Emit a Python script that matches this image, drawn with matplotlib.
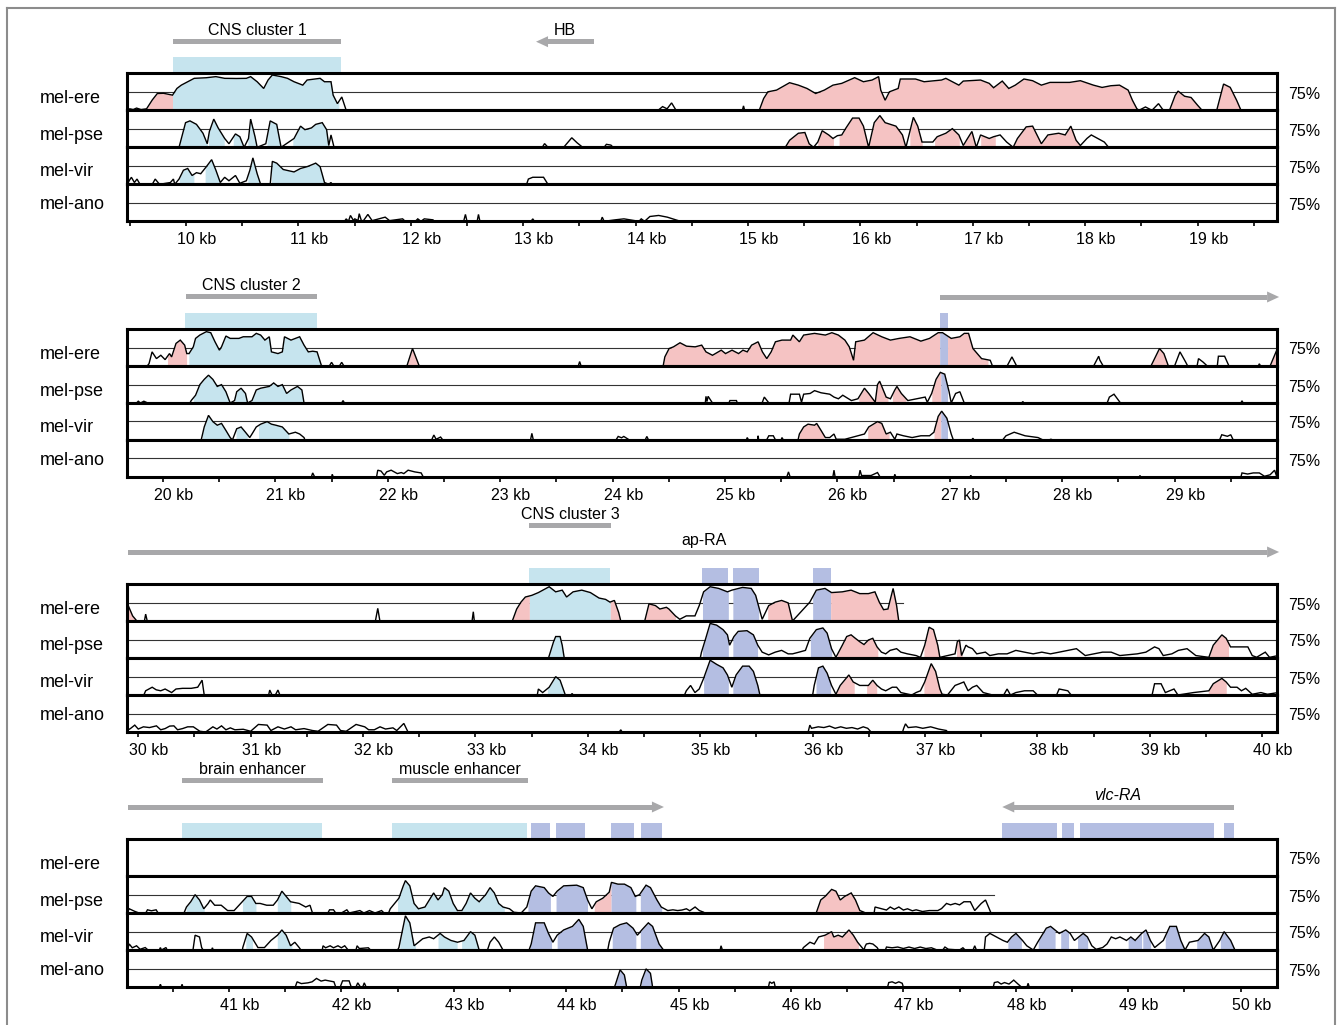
import numpy as np
import matplotlib
matplotlib.use('Agg')
import matplotlib.pyplot as plt
from matplotlib.patches import Rectangle, Polygon
from matplotlib.lines import Line2D

plt.rcParams['font.family'] = ['Liberation Sans', 'DejaVu Sans']

W, H = 1337, 1025
PX_PER_KB = 112.4
FRAME_L, FRAME_R = 127, 1277
TRACK_H = 37.0

species = ['mel-ere', 'mel-pse', 'mel-vir', 'mel-ano']
panel_start_kb = [9.475, 19.68, 29.9, 40.093]
panel_tick_kb = [list(range(10, 20)), list(range(20, 30)), list(range(30, 41)), list(range(41, 51))]

fill_colors = {'c': '#c6e4ee', 'e': '#b4bee2', 'n': '#f5c3c3'}
GRAY = '#a8a8aa'

# ---- conservation curves: (position kb, % identity) ----
p1_ere = [(9.48,50),(9.50,52),(9.53,51),(9.56,53),(9.60,51),(9.649,52),(9.70,64),(9.745,72.7),(9.80,73),(9.88,70.5),
          (9.919,79.5),(9.958,84),(10.073,93.2),(10.18,94),(10.266,95.5),(10.344,93.2),(10.45,93),(10.537,93.2),(10.575,95.5),
          (10.633,88.6),(10.691,79.5),(10.73,90.9),(10.768,97.7),(10.846,95.5),(10.903,93.2),(10.961,88.6),(11.039,84),
          (11.077,90.9),(11.193,93.2),(11.232,88.6),(11.29,88.6),(11.309,70.5),(11.347,59),(11.386,68),(11.425,50),
          (14.2,50),(14.24,55),(14.28,52),(14.32,60),(14.36,50),(14.95,50),(14.96,56),(14.97,50),(15.10,50),
          (15.139,65.9),(15.177,75),(15.254,77.3),(15.37,87.3),(15.448,84),(15.525,79.5),(15.602,72.7),(15.679,77.3),
          (15.756,84),(15.834,86.4),(15.949,94.1),(16.027,88.6),(16.104,90.9),(16.162,95.5),(16.181,77.3),(16.22,63.6),
          (16.258,75),(16.336,79.5),(16.355,92.3),(16.49,92.3),(16.567,88.6),(16.722,90.9),(16.76,93.2),(16.876,84),
          (16.915,89.5),(17.069,90.9),(17.146,86.4),(17.185,80.5),(17.262,89.5),(17.32,79.5),(17.378,84),(17.455,92.3),
          (17.532,90),(17.61,84),(17.687,87.7),(17.861,87.7),(17.957,90),(18.073,84),(18.15,80.9),(18.228,83.2),
          (18.305,84),(18.382,77.3),(18.42,63.6),(18.459,52.3),(18.478,50),(18.536,54.5),(18.594,50),(18.652,59),
          (18.69,51),(18.75,50),(18.80,70),(18.826,76),(18.884,69),(18.942,67.3),(19.0,56.8),(19.04,50),(19.17,50),
          (19.231,85.5),(19.29,81),(19.347,63.6),(19.386,50)]
p1_ere_fill = [(9.649,9.88,'n'),(9.88,11.36,'c'),(15.10,18.46,'n'),(18.75,19.04,'n'),(19.17,19.39,'n')]

p1_pse = [(9.938,50),(9.996,83.3),(10.035,85.7),(10.093,81),(10.151,69),(10.189,54.8),(10.208,71.4),(10.247,88.1),
          (10.286,76.2),(10.344,61.9),(10.382,54.8),(10.44,68.1),(10.479,64.3),(10.517,50),(10.556,61.9),(10.575,88.1),
          (10.614,64.3),(10.633,50),(10.71,54.8),(10.749,85.7),(10.807,81),(10.846,50),(10.961,61.9),(11.019,78.6),
          (11.058,73.8),(11.116,76.2),(11.154,81),(11.212,83.3),(11.251,73.8),(11.27,52.4),(11.29,66.7),(11.317,50),
          (13.17,50),(13.19,55),(13.22,50),(13.36,50),(13.432,62.9),(13.48,56),(13.529,50),(13.72,50),(13.74,54),
          (13.78,53),(13.80,50),(15.332,50),(15.37,59.5),(15.448,69),(15.506,70),(15.544,54.8),(15.583,50),(15.621,57.1),
          (15.66,72.4),(15.718,66.7),(15.756,61.9),(15.795,65.7),(15.834,66.7),(15.872,76.2),(15.93,89.5),(15.988,89.5),
          (16.027,78.6),(16.073,50),(16.123,83.3),(16.173,92.9),(16.22,83.3),(16.316,78.6),(16.374,66.7),(16.405,50),
          (16.444,73.8),(16.471,90.5),(16.51,78.6),(16.548,57.1),(16.644,57.1),(16.683,64.3),(16.76,69),(16.818,75.2),
          (16.876,66.7),(16.915,52.4),(16.953,61.9),(16.992,71.4),(17.031,50),(17.069,66.7),(17.146,61.9),(17.185,64.3),
          (17.243,66.7),(17.301,57.1),(17.359,50),(17.397,61.9),(17.475,77.6),(17.532,78.6),(17.571,66.7),(17.61,54.8),
          (17.668,66.7),(17.764,69),(17.822,66.7),(17.872,78.6),(17.919,59.5),(17.957,52.4),(18.015,61.9),(18.054,66.7),
          (18.112,61.9),(18.17,57.1),(18.208,50)]
p1_pse_fill = [(9.94,10.19,'c'),(10.20,10.34,'c'),(10.42,10.52,'c'),(10.55,10.63,'c'),(10.72,10.85,'c'),(10.95,11.27,'c'),
               (15.332,15.56,'n'),(15.62,15.76,'n'),(15.81,16.41,'n'),(16.44,16.55,'n'),(16.66,16.88,'n'),
               (16.92,17.03,'n'),(17.07,17.2,'n'),(17.36,17.95,'n')]

p1_vir = [(9.48,50),(9.494,54.8),(9.514,59.5),(9.541,52.4),(9.564,57.1),(9.591,50),(9.70,50),(9.726,57.1),(9.764,50),
          (9.861,52.4),(9.888,57.1),(9.90,50),(9.938,57.1),(9.977,69),(10.015,71.4),(10.054,61.9),(10.093,65.7),
          (10.131,64.3),(10.181,73.8),(10.228,83.3),(10.266,69),(10.305,52.4),(10.344,59.5),(10.382,54.8),(10.44,61.9),
          (10.479,51.4),(10.537,54.8),(10.568,69),(10.595,85.7),(10.633,64.3),(10.664,50),(10.749,50),(10.768,81),
          (10.807,78.6),(10.865,70),(10.961,66.7),(11.019,71.4),(11.077,73.8),(11.116,76.2),(11.154,78.6),(11.193,73.8),
          (11.232,52.4),(11.27,50),(11.29,52.4),(11.30,50),(13.03,50),(13.046,57.1),(13.085,59.5),(13.181,59.5),(13.22,50)]
p1_vir_fill = [(9.94,10.07,'c'),(10.17,10.30,'c'),(10.55,10.65,'c'),(10.76,11.23,'c')]

p1_ano = [(11.41,50),(11.425,53.3),(11.445,50),(11.463,57.9),(11.49,51),(11.502,53.3),(11.53,51),(11.541,60.3),(11.56,51),
          (11.579,50.9),(11.618,59.3),(11.656,50.9),(11.772,55.6),(11.811,50.9),(11.927,53.3),(11.95,50),(12.04,50),
          (12.062,53.3),(12.09,50),(12.12,53.3),(12.197,52),(12.21,50),(12.47,50),(12.486,59.3),(12.50,50),(12.59,50),
          (12.602,59.3),(12.615,50),(13.07,50),(13.085,53.3),(13.10,50),(13.69,50),(13.703,55.6),(13.72,50),(13.819,52),
          (13.896,53.3),(14.03,50),(14.05,53.3),(14.08,50),(14.127,56.5),(14.205,57.9),(14.282,55.6),(14.359,51.9),(14.40,50)]
p1_ano_fill = []

p2_ere = [(19.86,50),(19.876,53.2),(19.903,69.1),(19.942,60),(19.981,64.5),(20.019,58.6),(20.058,66.8),(20.077,62.3),
          (20.116,80.5),(20.154,85),(20.193,78.2),(20.212,66.8),(20.232,66.8),(20.27,75.9),(20.29,87.3),(20.328,91.8),
          (20.386,96.4),(20.425,95),(20.463,82.7),(20.502,71.4),(20.521,75.9),(20.56,90.5),(20.598,87.3),(20.676,87.3),
          (20.714,89.5),(20.792,89.5),(20.83,94.1),(20.869,91.8),(20.907,85),(20.946,89.5),(20.965,69.1),(21.023,66.8),
          (21.062,69.1),(21.081,89.5),(21.139,85),(21.178,87.3),(21.216,89.5),(21.255,78.2),(21.293,69.1),(21.332,70),
          (21.371,69.1),(21.409,50.9),(21.42,50),(21.48,50),(21.5,55),(21.52,50),(21.57,50),(21.59,55),(21.61,50),
          (22.17,50),(22.22,73.6),(22.28,50),(23.695,50),(23.707,56),(23.72,50),(24.45,50),(24.465,62.3),(24.503,73.6),
          (24.542,75.9),(24.6,81.4),(24.658,76.8),(24.735,75.9),(24.793,78.2),(24.831,69.1),(24.889,64.5),(24.967,71.4),
          (25.005,66.8),(25.063,71.4),(25.121,66.8),(25.16,71.4),(25.198,69.1),(25.237,78.2),(25.295,82.7),(25.333,69.1),
          (25.372,60),(25.411,69.1),(25.449,82.7),(25.507,85),(25.584,85),(25.604,91.8),(25.662,82.7),(25.7,91.8),
          (25.797,94.1),(25.893,91.8),(25.951,95),(26.009,91.8),(26.067,85),(26.106,75.9),(26.144,57.7),(26.163,82.7),
          (26.241,85),(26.318,95),(26.395,89.5),(26.472,85),(26.55,87.3),(26.646,89.5),(26.743,83.6),(26.82,87.3),
          (26.897,95),(26.936,95),(27.013,87.3),(27.09,89.5),(27.129,94.1),(27.167,94.1),(27.206,73.6),(27.245,66.8),
          (27.283,60),(27.36,57.7),(27.38,50),(27.51,50),(27.553,62.3),(27.595,50),(28.28,50),(28.325,63.2),(28.335,58),
          (28.365,50),(28.79,50),(28.866,73.6),(28.905,66.8),(28.945,50),(29.0,50),(29.048,69.1),(29.098,55.5),
          (29.117,50),(29.20,50),(29.213,60),(29.252,55.5),(29.291,50),(29.38,50),(29.39,63.2),(29.445,63.2),(29.484,50),
          (29.745,50),(29.754,53),(29.765,50),(29.85,50),(29.909,71.4),(29.94,69.1)]
p2_ere_fill = [(20.04,20.21,'n'),(20.23,21.41,'c'),(22.17,22.28,'n'),(24.45,26.91,'n'),(26.91,26.98,'e'),
               (26.98,27.34,'n'),(28.79,28.94,'n'),(29.85,29.94,'n')]

p2_pse = [(19.765,50),(19.78,52.4),(19.80,50),(19.83,52.4),(19.865,50),(20.24,50),(20.251,53.3),(20.29,60.5),(20.328,74.8),
          (20.367,81.9),(20.405,87.6),(20.444,81.9),(20.483,72.4),(20.521,74.8),(20.56,65.2),(20.598,50),(20.637,53.3),
          (20.656,65.2),(20.695,70),(20.734,62.9),(20.753,50),(20.792,53.3),(20.83,67.6),(20.869,70),(20.946,72.4),
          (20.985,77.1),(21.023,72.4),(21.062,74.8),(21.1,62.9),(21.139,67.6),(21.197,72.4),(21.236,67.6),(21.255,50),
          (21.59,50),(21.602,53.3),(21.615,50),(24.825,50),(24.831,59),(24.84,52),(24.85,59),(24.889,50),(25.035,50),
          (25.044,53.3),(25.102,53.3),(25.11,50),(25.33,50),(25.35,58),(25.391,50),(25.57,50),(25.584,61.9),(25.662,61.9),
          (25.681,51),(25.7,61.9),(25.758,62.9),(25.797,66.7),(25.855,63.8),(25.932,61.9),(25.97,58),(26.009,55.7),
          (26.048,60.5),(26.125,53.3),(26.183,55.7),(26.241,70),(26.279,62.9),(26.337,51),(26.357,74.8),(26.376,79.5),
          (26.434,58),(26.472,55.7),(26.511,67.6),(26.53,72.4),(26.569,62.9),(26.627,53.3),(26.781,58),(26.8,51),
          (26.839,62.9),(26.878,81.9),(26.916,91.4),(26.955,89),(26.994,65.2),(27.013,50),(27.052,62.9),(27.09,65.2),
          (27.129,50),(27.64,50),(27.65,52),(27.66,50),(28.40,50),(28.42,58),(28.461,61.9),(28.519,50),(29.59,50),
          (29.6,53),(29.61,50)]
p2_pse_fill = [(20.27,20.60,'c'),(20.64,20.75,'c'),(20.79,21.25,'c'),(26.19,26.34,'n'),(26.34,26.45,'n'),
               (26.49,26.61,'n'),(26.84,26.92,'n'),(26.92,26.98,'e')]

p2_vir = [(20.34,50),(20.367,67.6),(20.405,83.3),(20.444,74.8),(20.483,70),(20.521,72.4),(20.56,62.9),(20.598,53.3),
          (20.618,50),(20.656,65.2),(20.695,67.6),(20.734,60.5),(20.772,53.3),(20.792,58.1),(20.83,67.6),(20.869,71.4),
          (20.927,74.8),(20.965,71.4),(21.004,70),(21.062,67.6),(21.12,58.1),(21.178,60.5),(21.216,58.1),(21.255,53.3),
          (21.263,50),(22.39,50),(22.41,56.7),(22.43,51),(22.47,54),(22.49,50),(23.27,50),(23.282,59),(23.295,50),
          (24.03,50),(24.05,54.8),(24.08,53),(24.10,54.8),(24.15,50),(24.29,50),(24.305,54.8),(24.32,50),(25.19,50),
          (25.198,53.3),(25.21,50),(25.29,50),(25.295,55.7),(25.30,50),(25.37,50),(25.39,55.7),(25.43,55.7),(25.45,50),
          (25.50,50),(25.507,53.3),(25.52,50),(25.65,50),(25.662,58.1),(25.7,67.6),(25.739,71.4),(25.797,70),
          (25.816,72.4),(25.855,62.9),(25.893,53.3),(25.932,53.3),(25.97,58.1),(25.99,51),(26.067,51),(26.241,58.1),
          (26.279,67.6),(26.357,74.8),(26.395,72.4),(26.434,58.1),(26.472,60.5),(26.511,51),(26.53,58.1),(26.588,55.7),
          (26.665,53.3),(26.743,55.7),(26.82,55.7),(26.859,60.5),(26.897,81.9),(26.928,89),(26.974,79.5),(27.013,58.1),
          (27.032,50),(27.195,50),(27.206,52.4),(27.215,50),(27.47,50),(27.50,55.7),(27.573,60.5),(27.67,55.7),
          (27.785,53.3),(27.83,50),(27.88,50),(27.9,51),(27.92,50),(29.40,50),(29.42,57.1),(29.47,55),(29.50,57.1),
          (29.522,50)]
p2_vir_fill = [(20.35,20.60,'c'),(20.65,20.75,'c'),(20.85,21.12,'c'),(25.66,25.88,'n'),(26.27,26.46,'n'),
               (26.86,26.92,'n'),(26.92,26.98,'e')]

p2_ano = [(21.32,50),(21.332,55.5),(21.35,50),(21.50,50),(21.506,53.7),(21.515,50),(21.90,50),(21.911,59.2),(21.94,58),
          (21.969,52.3),(21.99,56.9),(22.03,59.2),(22.085,54.6),(22.12,56),(22.143,54.6),(22.181,59.2),(22.24,56.9),
          (22.297,55.5),(22.316,50),(25.55,50),(25.565,56.9),(25.58,50),(25.96,50),(25.97,59.2),(25.98,50),(26.19,50),
          (26.202,59.2),(26.215,52),(26.30,52),(26.357,56),(26.38,50),(26.505,50),(26.511,53.7),(26.52,50),(27.18,50),
          (27.187,52.3),(27.195,50),(28.685,50),(28.692,52),(28.70,50),(29.59,50),(29.6,55.5),(29.65,54),(29.70,55.5),
          (29.754,55.5),(29.80,51),(29.85,53),(29.89,59.2),(29.91,50)]
p2_ano_fill = []

p3_ere = [(29.9,72),(29.911,70.8),(29.95,56.9),(29.988,50),(30.055,50),(30.066,59.3),(30.08,50),(32.11,50),(32.131,67.1),
          (32.15,50),(32.97,50),(32.981,62.5),(32.99,50),(33.328,50),(33.367,66.2),(33.405,75.5),(33.444,82.4),
          (33.502,84.7),(33.56,88.4),(33.656,96.3),(33.714,89.4),(33.772,91.7),(33.811,82.4),(33.869,89.4),(33.946,91.7),
          (34.023,88.4),(34.1,81),(34.158,79.2),(34.197,75.5),(34.236,77.8),(34.274,61.6),(34.293,50),(34.506,50),
          (34.544,73.2),(34.602,70.8),(34.641,66.2),(34.699,68.5),(34.721,66.2),(34.779,56.9),(34.818,52.3),(34.876,56.9),
          (34.953,56.9),(34.991,70.8),(35.03,89.4),(35.088,96.3),(35.165,94),(35.242,89.4),(35.281,91.7),(35.377,95.4),
          (35.454,94),(35.493,84.7),(35.551,52.3),(35.609,70.8),(35.667,75.5),(35.724,77.8),(35.782,74.5),(35.821,50),
          (35.975,75.5),(36.033,91.7),(36.11,94),(36.168,88.4),(36.264,89.4),(36.342,91.7),(36.419,87),(36.496,87),
          (36.554,89.4),(36.593,75.5),(36.631,65.3),(36.67,66.2),(36.689,77.8),(36.716,94),(36.747,70.8),(36.766,50)]
p3_ere_fill = [(29.9,29.99,'n'),(33.33,33.48,'n'),(33.48,34.2,'c'),(34.2,34.29,'n'),(34.5,34.78,'n'),(35.02,35.25,'e'),
               (35.29,35.52,'e'),(35.6,35.82,'n'),(36.0,36.16,'e'),(36.16,36.77,'n')]

p3_pse = [(33.65,50),(33.695,72),(33.714,79),(33.753,79),(33.772,67.3),(33.79,50),(35.0,50),(35.011,57.9),(35.049,76.6),
          (35.088,96.7),(35.146,94.4),(35.203,88.3),(35.242,81.3),(35.261,67.3),(35.3,79),(35.338,86),(35.416,86.9),
          (35.473,81.3),(35.512,67.3),(35.551,57.9),(35.609,54.2),(35.667,57.9),(35.724,60.3),(35.782,55.6),(35.821,55.6),
          (35.879,57.9),(35.936,60.3),(35.975,76.6),(36.033,88.3),(36.091,90.6),(36.129,83.6),(36.168,62.6),(36.207,50.9),
          (36.264,67.3),(36.303,79),(36.342,81.3),(36.38,76.6),(36.419,72),(36.457,68.2),(36.496,74.3),(36.535,76.6),
          (36.573,65),(36.612,57.9),(36.65,55.6),(36.689,60.3),(36.747,62.6),(36.785,57.9),(36.843,55.6),(36.92,53.3),
          (36.959,50.9),(36.997,67.3),(37.036,91.6),(37.075,88.3),(37.113,67.3),(37.132,50.9),(37.267,55.6),(37.287,72),
          (37.306,74.3),(37.325,53.3),(37.364,67.3),(37.383,65),(37.422,62.6),(37.46,55.6),(37.537,57.9),(37.576,53.3),
          (37.653,55.6),(37.73,55.6),(37.808,60.3),(37.885,57.9),(37.962,55.6),(38.039,57.9),(38.116,55.6),(38.193,57.9),
          (38.347,62.6),(38.425,53.3),(38.502,55.6),(38.579,57.9),(38.656,57.9),(38.733,53.3),(38.888,55.6),(38.965,57.9),
          (39.042,65),(39.081,62.6),(39.119,53.3),(39.196,55.6),(39.254,60.3),(39.331,62.6),(39.409,53.3),(39.525,50.9),
          (39.564,67.3),(39.641,81.3),(39.679,76.6),(39.718,65),(39.795,65),(39.872,65),(39.911,53.3),(39.95,51),
          (40.027,57.9),(40.065,50.9),(40.142,53.3)]
p3_pse_fill = [(33.65,33.79,'c'),(35.02,35.25,'e'),(35.29,35.51,'e'),(35.98,36.17,'e'),(36.22,36.58,'n'),
               (36.99,37.12,'n'),(37.28,37.33,'n'),(39.53,39.70,'n')]

p3_vir = [(30.05,50),(30.066,55.7),(30.124,60.5),(30.16,57),(30.2,55.7),(30.239,58.1),(30.297,53.3),(30.336,58.1),
          (30.394,59),(30.471,59),(30.529,60.5),(30.568,70),(30.587,50),(31.16,50),(31.17,56.7),(31.19,50),(31.22,50),
          (31.243,56.7),(31.26,50),(33.55,50),(33.56,58.1),(33.598,53.3),(33.656,60.5),(33.714,74.8),(33.753,70),
          (33.792,53.3),(33.80,50),(33.85,50),(33.86,52),(33.87,50),(34.86,50),(34.876,55.7),(34.914,62.9),(34.953,53.3),
          (34.991,58.1),(35.03,72.4),(35.088,97),(35.146,91.4),(35.203,86.7),(35.242,77.1),(35.281,60.5),(35.319,77.1),
          (35.377,89),(35.435,89),(35.473,81.9),(35.512,62.9),(35.531,50),(36.0,50),(36.014,62.9),(36.052,86.7),
          (36.091,89),(36.129,79.5),(36.168,62.9),(36.207,51),(36.245,62.9),(36.284,70),(36.322,77.1),(36.361,67.6),
          (36.419,62.9),(36.496,62.9),(36.535,70),(36.573,62.9),(36.612,58.1),(36.65,55.7),(36.708,60.5),(36.747,60.5),
          (36.785,53.3),(36.882,50),(36.92,53.3),(36.959,55.7),(36.997,67.6),(37.055,92.4),(37.094,81.9),(37.132,58.1),
          (37.152,51),(37.20,50),(37.267,62.9),(37.306,65.2),(37.345,67.6),(37.383,55.7),(37.422,60.5),(37.46,62.9),
          (37.518,53.3),(37.60,50),(37.70,50),(37.73,58.1),(37.76,50),(37.808,53.3),(37.885,55.7),(37.962,55.7),(38.0,50),
          (38.17,50),(38.193,58.1),(38.27,55.7),(38.30,50),(39.02,50),(39.042,65.2),(39.1,65.2),(39.138,53.3),
          (39.215,58.1),(39.25,50),(39.389,53.3),(39.525,55.7),(39.564,65.2),(39.641,72.4),(39.679,67.6),(39.718,60.5),
          (39.776,60.5),(39.815,55.7),(39.853,59),(39.911,51),(39.988,53.3),(40.046,51),(40.142,53.3)]
p3_vir_fill = [(33.64,33.79,'c'),(35.03,35.25,'e'),(35.29,35.52,'e'),(36.03,36.16,'e'),(36.21,36.37,'n'),
               (36.48,36.57,'n'),(36.99,37.15,'n'),(39.52,39.68,'n')]

p3_ano = [(29.9,52),(29.93,54.6),(29.969,59.3),(30.0,54),(30.046,57),(30.10,56),(30.162,58.3),(30.20,53),(30.239,54.6),
          (30.28,58),(30.317,58.3),(30.35,53),(30.394,54.6),(30.44,57),(30.49,57),(30.548,51),(30.60,50),(30.664,57),
          (30.70,54),(30.741,58.3),(30.78,53),(30.819,55.6),(30.86,53),(30.934,53.7),(31.0,51),(31.069,60.2),
          (31.147,59.3),(31.18,52),(31.243,57),(31.30,54),(31.359,57),(31.40,53),(31.475,54.6),(31.55,52),(31.60,51),
          (31.687,60.2),(31.764,59.3),(31.80,52),(31.85,51),(31.938,60.2),(32.015,57),(32.05,53),(32.10,53),(32.151,57),
          (32.20,54),(32.266,55.6),(32.30,52),(32.363,61.6),(32.40,50),(34.28,50),(34.293,53),(34.305,50),(35.96,50),
          (35.975,59.3),(35.99,55),(36.05,57),(36.10,56),(36.15,58),(36.20,55),(36.25,57),(36.30,55),(36.35,56),
          (36.40,54),(36.45,57),(36.49,55),(36.52,50),(36.80,50),(36.81,55),(36.826,61),(36.85,56),(36.92,57),
          (36.98,55),(37.05,57),(37.12,54),(37.19,52),(37.20,50)]
p3_ano_fill = []

p4_ere = []
p4_ere_fill = []

p4_pse = [(40.1,52),(40.113,55.7),(40.159,52.4),(40.20,50),(40.26,50),(40.275,54.3),(40.31,53),(40.352,54.3),(40.37,50),
          (40.60,50),(40.622,58.1),(40.66,65.2),(40.699,74.8),(40.738,67.6),(40.776,55.7),(40.815,62.9),(40.834,67.6),
          (40.873,60.5),(40.931,60.5),(40.988,53.3),(41.046,53.3),(41.104,62.9),(41.162,72.4),(41.201,72.4),
          (41.239,62.9),(41.278,62.9),(41.336,60.5),(41.394,60.5),(41.432,67.6),(41.471,79.5),(41.509,72.4),
          (41.548,65.2),(41.625,62.9),(41.683,58.1),(41.721,60.5),(41.741,51),(41.75,50),(41.88,50),(41.895,54.3),
          (41.93,54.3),(41.95,50),(42.0,50),(42.049,54.3),(42.07,50),(42.165,53.3),(42.20,50),(42.25,53.3),(42.30,50),
          (42.358,53.3),(42.38,50),(42.42,50),(42.435,55.7),(42.474,62.9),(42.512,70),(42.551,86.7),(42.57,93.8),
          (42.609,86.7),(42.647,62.9),(42.686,55.7),(42.744,58.1),(42.782,67.6),(42.821,77.1),(42.86,67.6),(42.898,74.8),
          (42.917,84.3),(42.956,79.5),(42.995,62.9),(43.033,53.3),(43.072,53.3),(43.11,62.9),(43.149,77.1),(43.188,70),
          (43.226,65.2),(43.284,74.8),(43.323,84.3),(43.361,77.1),(43.4,62.9),(43.438,58.1),(43.496,55.7),(43.535,51),
          (43.60,50),(43.65,58.1),(43.689,79.5),(43.728,86.7),(43.805,84.3),(43.843,77.1),(43.882,72.4),(43.92,79.5),
          (43.978,86.7),(44.094,87.6),(44.152,84.3),(44.191,67.6),(44.229,55.7),(44.268,65.2),(44.326,70),(44.383,78.1),
          (44.403,91.4),(44.461,89),(44.519,89),(44.576,84.3),(44.615,72.4),(44.653,74.8),(44.711,87.6),(44.75,84.3),
          (44.808,67.6),(44.846,58.1),(44.904,53.3),(44.95,54.3),(44.992,53.3),(45.03,54),(45.07,55.7),(45.10,53),
          (45.147,58.1),(45.185,53.3),(45.224,51),(45.23,50),(46.22,50),(46.227,51),(46.265,67.6),(46.304,72.4),
          (46.362,81.9),(46.4,79.5),(46.439,67.6),(46.478,72.4),(46.536,77.1),(46.574,67.6),(46.613,53.3),(46.651,51),
          (46.66,50),(46.74,50),(46.748,58.1),(46.806,55.7),(46.85,54),(46.883,58.1),(46.92,55),(46.96,58.1),(47.0,54),
          (47.037,55.7),(47.08,53),(47.114,54.3),(47.17,52),(47.23,53.3),(47.307,53.3),(47.34,56),(47.384,62.9),
          (47.42,61),(47.461,62.9),(47.50,61),(47.539,65.2),(47.596,65.2),(47.635,53.3),(47.693,62.9),(47.731,67.6),
          (47.77,53.3),(47.78,50)]
p4_pse_fill = [(40.62,40.78,'c'),(41.12,41.24,'c'),(41.43,41.55,'c'),(42.5,43.03,'c'),(43.07,43.45,'c'),
               (43.66,43.86,'e'),(43.91,44.19,'e'),(44.25,44.40,'n'),(44.40,44.62,'e'),(44.66,44.85,'e'),(46.23,46.61,'n')]

p4_vir = [(40.1,52),(40.113,58.1),(40.14,53),(40.178,55.7),(40.21,51),(40.255,53.3),(40.28,50),(40.38,50),(40.39,53.3),
          (40.40,50),(40.44,53.3),(40.45,50),(40.68,50),(40.699,70),(40.738,67.6),(40.757,53.3),(40.77,50),(40.845,50),
          (40.853,53),(40.86,50),(41.12,50),(41.123,53.3),(41.162,72.4),(41.201,67.6),(41.258,53.3),(41.316,53.3),
          (41.374,62.9),(41.432,70),(41.471,77.1),(41.509,70),(41.548,55.7),(41.586,60.5),(41.625,53.3),(41.64,50),
          (41.83,50),(41.837,55.7),(41.86,53),(41.90,55.7),(41.93,53),(41.97,55.7),(42.0,53),(42.03,55.7),(42.06,50),
          (42.13,50),(42.14,55.7),(42.16,52),(42.24,53),(42.26,50),(42.50,50),(42.512,53.3),(42.551,81.9),(42.57,96.2),
          (42.609,86.7),(42.647,55.7),(42.686,60.5),(42.724,65.2),(42.782,67.6),(42.821,65.2),(42.879,72.4),(42.917,67.6),
          (42.975,62.9),(43.033,60.5),(43.091,62.9),(43.149,74.8),(43.188,70),(43.226,50),(43.30,50),(43.323,60.5),
          (43.361,67.6),(43.4,60.5),(43.438,50),(43.67,50),(43.689,58.1),(43.728,86.7),(43.805,86.7),(43.843,72.4),
          (43.882,60.5),(43.92,70),(43.978,77.1),(44.056,81.9),(44.113,91.4),(44.152,81.9),(44.191,50),(44.37,50),
          (44.383,60.5),(44.422,79.5),(44.48,84.3),(44.538,86.7),(44.595,79.5),(44.634,70),(44.673,77.1),(44.731,86.7),
          (44.769,81.9),(44.827,58.1),(44.866,50),(45.37,50),(45.378,55.7),(45.39,50),(46.10,50),(46.111,53.3),
          (46.169,60.5),(46.208,58.1),(46.246,67.6),(46.304,70),(46.362,74.8),(46.381,67.6),(46.42,70),(46.458,67.6),
          (46.516,77.1),(46.555,70),(46.593,60.5),(46.632,53.3),(46.65,50),(46.66,55),(46.671,58.1),(46.70,59),
          (46.729,58.1),(46.767,53.3),(46.78,50),(46.84,50),(46.85,54),(46.90,53),(46.95,54),(47.0,52),(47.05,54),
          (47.10,52),(47.15,54),(47.20,52),(47.25,53),(47.30,50),(47.35,50),(47.37,54),(47.40,51),(47.50,50),(47.53,53),
          (47.55,50),(47.62,50),(47.635,55.7),(47.65,50),(47.72,50),(47.731,67.6),(47.77,72.4),(47.828,67.6),
          (47.886,62.9),(47.925,60.5),(47.963,67.6),(48.002,72.4),(48.06,62.9),(48.098,55.7),(48.156,50),(48.195,60.5),
          (48.233,70),(48.272,79.5),(48.31,81.9),(48.349,77.1),(48.387,72.4),(48.445,77.1),(48.484,72.4),(48.522,62.9),
          (48.561,67.6),(48.6,72.4),(48.638,67.6),(48.677,55.7),(48.715,51),(48.773,53.3),(48.812,58.1),(48.85,67.6),
          (48.889,65.2),(48.927,67.6),(48.985,62.9),(49.024,67.6),(49.062,62.9),(49.12,72.4),(49.159,77.1),(49.198,62.9),
          (49.236,53.3),(49.313,62.9),(49.371,81.9),(49.429,81.9),(49.468,62.9),(49.506,50),(49.545,60.5),(49.622,62.9),
          (49.68,72.4),(49.718,67.6),(49.757,50),(49.815,62.9),(49.854,74.8),(49.912,62.9),(49.95,50)]
p4_vir_fill = [(41.15,41.21,'c'),(41.43,41.56,'c'),(42.52,42.66,'c'),(42.86,43.03,'c'),(43.07,43.22,'c'),
               (43.68,43.87,'e'),(43.92,44.19,'e'),(44.41,44.62,'e'),(44.66,44.86,'e'),(46.29,46.6,'n'),
               (47.93,48.05,'e'),(48.2,48.35,'e'),(48.40,48.47,'e'),(48.55,48.64,'e'),(49.0,49.12,'e'),
               (49.13,49.2,'e'),(49.33,49.5,'e'),(49.61,49.75,'e'),(49.82,49.95,'e')]

p4_ano = [(40.38,50),(40.39,53.7),(40.40,50),(40.575,50),(40.583,53.7),(40.59,50),(41.59,50),(41.606,57),(41.644,54.6),
          (41.702,55.6),(41.74,57),(41.779,61.6),(41.82,58),(41.856,59.3),(41.934,57),(41.95,50),(41.99,50),(42.011,58.3),
          (42.069,58.3),(42.088,50),(42.13,50),(42.146,55.6),(42.17,50),(42.19,50),(42.204,55.6),(42.22,50),(44.43,50),
          (44.441,54.6),(44.48,73.2),(44.518,66.2),(44.538,50),(44.66,50),(44.673,59.3),(44.711,74.5),(44.75,68.5),
          (44.769,50),(45.80,50),(45.81,57),(45.83,55),(45.85,57),(45.86,50),(46.86,50),(46.87,56),(46.90,57),(46.93,55),
          (46.96,57),(46.99,55),(47.0,50),(47.80,50),(47.81,56),(47.84,57),(47.87,54),(47.90,56),(47.94,54),(47.982,59.3),
          (48.02,54),(48.05,50),(48.10,50),(48.11,55),(48.12,50)]
p4_ano_fill = [(44.44,44.54,'e'),(44.67,44.77,'e')]

# extent of the 75% reference line (None = whole panel, False = not drawn)
p3_ere_span = (29.9, 36.8)
p4_ere_span = False
p4_pse_span = (40.093, 47.81)

# ---- annotation above each panel ----
p1_bars = [(9.884, 11.379, 'CNS cluster 1')]
p1_arrows = [(13.63, 13.114, 'HB')]
p1_boxes = [(9.88, 11.38, 'c')]
p2_bars = [(20.205, 21.37, 'CNS cluster 2')]
p2_arrows = [(26.91, 29.93, '')]
p2_boxes = [(20.2, 21.37, 'c'), (26.91, 26.98, 'e')]
p3_bars = [(33.48, 34.21, 'CNS cluster 3')]
p3_arrows = [(29.91, 40.15, 'ap-RA')]
p3_boxes = [(33.48, 34.2, 'c'), (35.02, 35.25, 'e'), (35.29, 35.52, 'e'), (36.0, 36.16, 'e')]
p4_bars = [(40.58, 41.84, 'brain enhancer'), (42.45, 43.66, 'muscle enhancer')]
p4_arrows = [(40.1, 44.87, ''), (49.94, 47.88, 'vlc-RA')]
p4_boxes = [(40.58, 41.83, 'c'), (42.45, 43.65, 'c'), (43.69, 43.86, 'e'), (43.91, 44.17, 'e'), (44.4, 44.6, 'e'),
            (44.67, 44.85, 'e'), (47.88, 48.37, 'e'), (48.41, 48.52, 'e'), (48.57, 49.76, 'e'), (49.85, 49.94, 'e')]

# layout in pixels
panel_top = [73.3, 329.0, 584.0, 839.0]
bar_y = [41.8, 296.8, 525.5, 780.7]
arrow_y = [41.7, 297.0, 552.0, 807.0]
label_base = [30, 29.5, 29, 25]

panels = [
    dict(tracks=[(p1_ere, p1_ere_fill, None), (p1_pse, p1_pse_fill, None), (p1_vir, p1_vir_fill, None), (p1_ano, p1_ano_fill, None)],
         bars=p1_bars, arrows=p1_arrows, boxes=p1_boxes),
    dict(tracks=[(p2_ere, p2_ere_fill, None), (p2_pse, p2_pse_fill, None), (p2_vir, p2_vir_fill, None), (p2_ano, p2_ano_fill, None)],
         bars=p2_bars, arrows=p2_arrows, boxes=p2_boxes),
    dict(tracks=[(p3_ere, p3_ere_fill, p3_ere_span), (p3_pse, p3_pse_fill, None), (p3_vir, p3_vir_fill, None), (p3_ano, p3_ano_fill, None)],
         bars=p3_bars, arrows=p3_arrows, boxes=p3_boxes),
    dict(tracks=[(p4_ere, p4_ere_fill, p4_ere_span), (p4_pse, p4_pse_fill, p4_pse_span), (p4_vir, p4_vir_fill, None), (p4_ano, p4_ano_fill, None)],
         bars=p4_bars, arrows=p4_arrows, boxes=p4_boxes),
]


def fy(y):
    return 1 - y / H


def draw_track(ax, pts, fills, span, xr):
    if span is not False:
        a, b = span if span else xr
        ax.plot([a, b], [75, 75], color='#333333', lw=0.8, zorder=1)
    if not pts:
        return
    x = np.array([p[0] for p in pts])
    y = np.array([p[1] for p in pts])
    for a, b, kind in fills:
        m = (x > a) & (x < b)
        xs = np.concatenate([[a], x[m], [b]])
        ys = np.concatenate([[np.interp(a, x, y)], y[m], [np.interp(b, x, y)]])
        ax.fill_between(xs, 50, ys, color=fill_colors[kind], lw=0, zorder=2)
    ax.plot(x, y, color='black', lw=1.0, zorder=3, solid_joinstyle='miter')


def draw_arrow(ax, tail, tip, y, label):
    d = np.sign(tip - tail)
    head = 12 / PX_PER_KB
    base = tip - d * head
    ax.add_patch(Rectangle((min(tail, base), y - 2.5), abs(base - tail), 5, color=GRAY, lw=0))
    ax.add_patch(Polygon([[base, y - 5.5], [tip, y], [base, y + 5.5]], closed=True, color=GRAY, lw=0))
    if label:
        style = 'italic' if label == 'vlc-RA' else 'normal'
        ax.text((tail + tip) / 2, y - 6.5, label, ha='center', va='baseline', fontsize=11.5, style=style)


fig = plt.figure(figsize=(W / 100, H / 100), dpi=100)

# outer grey frame
for xs, ys in [([7, 7], [8, H]), ([7, 1335], [8, 8]), ([1335, 1335], [8, H])]:
    fig.add_artist(Line2D([x / W for x in xs], [fy(v) for v in ys], color='#8c8c8c', lw=1.5))

span_kb = (FRAME_R - FRAME_L) / PX_PER_KB

for p, panel in enumerate(panels):
    x0 = panel_start_kb[p]
    xr = (x0, x0 + span_kb)

    # overlay axes in (kb, pixel) coordinates for the annotation row and tick labels
    ann = fig.add_axes([0, 0, 1, 1])
    ann.set_xlim(x0 - FRAME_L / PX_PER_KB, x0 + (W - FRAME_L) / PX_PER_KB)
    ann.set_ylim(H, 0)
    ann.axis('off')
    ann.patch.set_alpha(0)

    for a, b, label in panel['bars']:
        ann.add_patch(Rectangle((a, bar_y[p] - 2.5), b - a, 5, color=GRAY, lw=0))
        ann.text((a + b) / 2, bar_y[p] - 6.5, label, ha='center', va='baseline', fontsize=11.5)
    for tail, tip, label in panel['arrows']:
        draw_arrow(ann, tail, tip, arrow_y[p], label)
    for a, b, kind in panel['boxes']:
        ann.add_patch(Rectangle((a, panel_top[p] - 16.5), b - a, 15, color=fill_colors[kind], lw=0))

    bottom = panel_top[p] + 4 * TRACK_H
    for k in panel_tick_kb[p]:
        ann.text(k - 0.079, bottom + 23, f'{k} kb', ha='left', va='baseline', fontsize=11.5)

    for i, (pts, fills, span) in enumerate(panel['tracks']):
        top = panel_top[p] + i * TRACK_H
        ax = fig.add_axes([FRAME_L / W, fy(top + TRACK_H), (FRAME_R - FRAME_L) / W, TRACK_H / H])
        ax.set_xlim(*xr)
        ax.set_ylim(50, 100)
        draw_track(ax, pts, fills, span, xr)
        for s in ax.spines.values():
            s.set_linewidth(2.2)
        ax.set_yticks([])
        if i == 3:
            ax.set_xticks(np.arange(np.ceil(x0 * 2) / 2, xr[1], 0.5))
            ax.tick_params(axis='x', direction='out', length=3.5, width=1.2, labelbottom=False)
        else:
            ax.set_xticks([])
        fig.text(40 / W, fy(top + label_base[i]), species[i], ha='left', va='baseline', fontsize=13)
        fig.text(1304 / W, fy(top + TRACK_H / 2 + 7), '75%', ha='center', va='baseline', fontsize=11.5)

fig.savefig('out.png', dpi=100)
